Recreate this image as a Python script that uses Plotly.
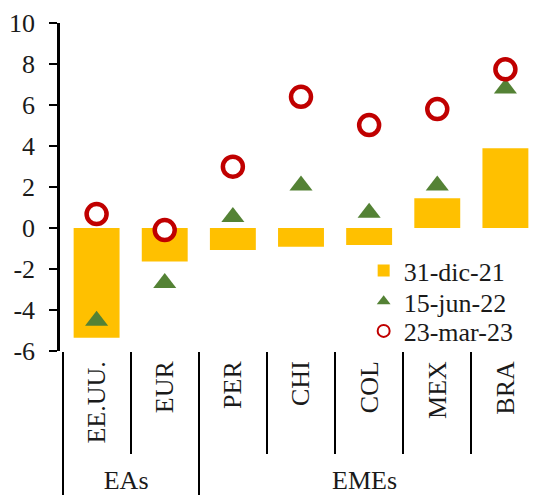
import plotly.graph_objects as go

# ---- data ----
groups = ["EAs", "EAs", "EMEs", "EMEs", "EMEs", "EMEs", "EMEs"]
countries = ["EE.UU.", "EUR", "PER", "CHI", "COL", "MEX", "BRA"]
dic21 = [-5.35, -1.64, -1.07, -0.91, -0.83, 1.45, 3.89]
jun22 = [-4.52, -2.68, 0.54, 2.07, 0.74, 2.07, 6.81]
mar23 = [0.68, -0.10, 2.99, 6.40, 5.02, 5.80, 7.74]
series_names = ["31-dic-21", "15-jun-22", "23-mar-23"]
y_ticks = [-6, -4, -2, 0, 2, 4, 6, 8, 10]
y_tick_labels = ["-6", "-4", "-2", "0", "2", "4", "6", "8", "10"]

FONT = "Liberation Serif, Times New Roman, serif"
TXT = "#1a1a1a"
FS = 26
GOLD, GREEN, RED = "#FFC000", "#548235", "#C00000"
x = [groups, countries]

fig = go.Figure()
fig.add_bar(x=x, y=dic21, name=series_names[0], legend="legend",
            marker=dict(color=GOLD, line=dict(width=0)))
fig.add_scatter(x=x, y=jun22, mode="markers", name=series_names[1], legend="legend2",
                marker=dict(symbol="triangle-up", size=20, color=GREEN,
                            line=dict(width=0)))
fig.add_scatter(x=x, y=mar23, mode="markers", name=series_names[2], legend="legend3",
                marker=dict(symbol="circle", size=20, color="white",
                            line=dict(color=RED, width=4.5)))

leg = dict(x=0.63, xanchor="left", yanchor="middle", bgcolor="rgba(0,0,0,0)",
           font=dict(family=FONT, size=FS, color=TXT), itemwidth=30,
           itemsizing="constant")

# page has an 8px body margin: figure is shrunk by 8px so the plot lands where it should
fig.update_layout(
    width=534, height=488,
    margin=dict(l=52, r=0, t=15, b=145, autoexpand=False),
    paper_bgcolor="white", plot_bgcolor="white",
    font=dict(family=FONT, size=FS, color=TXT),
    bargap=0.326,
    showlegend=True,
    legend=dict(leg, y=0.245),
    legend2=dict(leg, y=0.151),
    legend3=dict(leg, y=0.061),
    xaxis=dict(type="multicategory", showgrid=False, zeroline=False,
               showline=False, ticks="outside", tickson="boundaries",
               ticklen=102, tickwidth=2, tickcolor="black",
               tickangle=-90, ticklabelstandoff=4,
               showdividers=True, dividercolor="black", dividerwidth=2,
               tickfont=dict(family=FONT, size=FS, color=TXT), automargin=False),
    xaxis2=dict(overlaying="x", anchor="free", position=0.375,
                range=[-0.5, 6.5], tick0=0.5, dtick=1,
                showline=True, linecolor="black", linewidth=2.5,
                ticks="outside", ticklen=7, tickwidth=2, tickcolor="black",
                showticklabels=False, showgrid=False, zeroline=False),
    yaxis=dict(range=[-6, 10], tickvals=y_ticks, ticktext=y_tick_labels,
               showgrid=False, zeroline=False,
               showline=True, linecolor="black", linewidth=2.5,
               ticks="outside", ticklen=8, tickwidth=2, tickcolor="black",
               ticklabelstandoff=9, tickfont=dict(family=FONT, size=FS, color=TXT),
               automargin=False),
)

fig.write_html("out.html")
